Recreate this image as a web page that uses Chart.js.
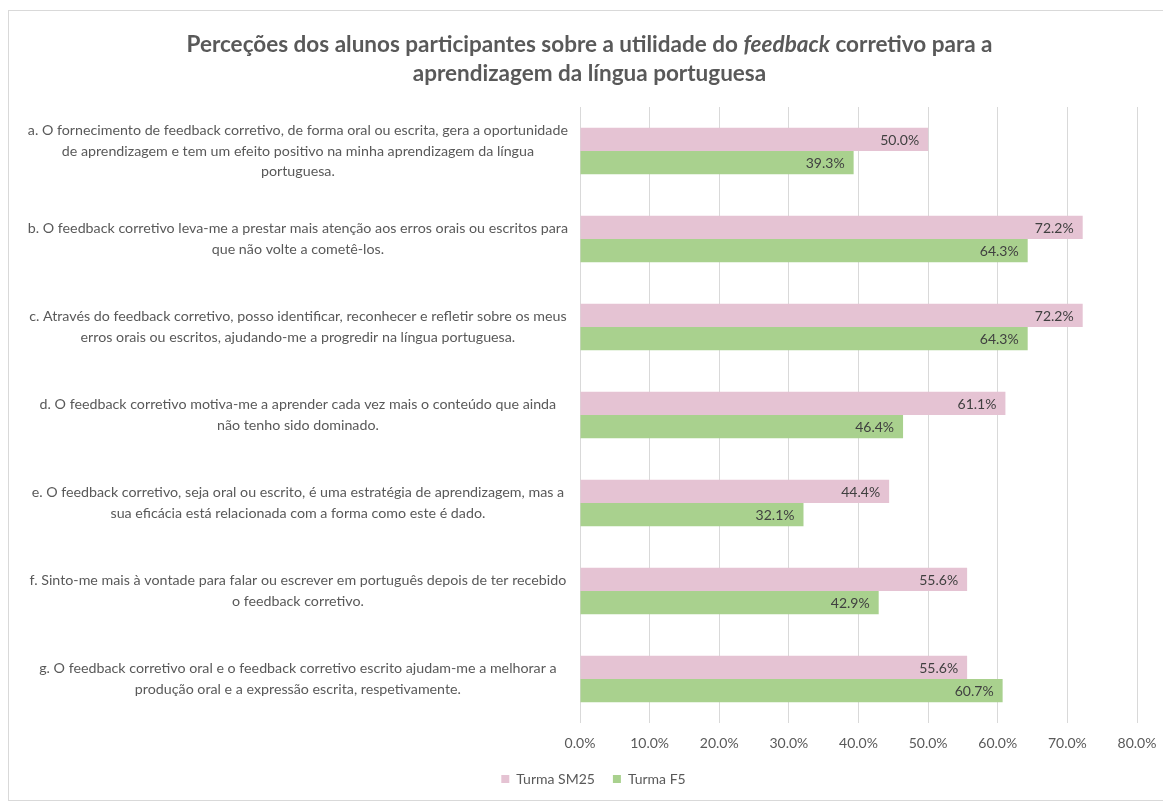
<!DOCTYPE html>
<html>
<head>
<meta charset="utf-8">
<script src="https://cdn.jsdelivr.net/npm/chart.js@4"></script>
<style>
	html, body { margin: 0; padding: 0; background: #fff; }
	body { width: 1163px; height: 803px; position: relative; overflow: hidden; }
	#frame {
		position: absolute; left: 8px; top: 10px; width: 1170px; height: 791px;
		border: 1px solid #d9d9d9; box-sizing: border-box;
	}
	#title {
		position: absolute; left: 8px; top: 29px; width: 1163px; text-align: center;
		font-family: Lato, sans-serif; font-weight: bold; font-size: 22.5px; line-height: 29px;
		color: #595959;
	}
	#chart { position: absolute; left: 0; top: 0; }
</style>
</head>
<body>
<div id="frame"></div>
<canvas id="chart" width="1163" height="803"></canvas>
<div id="title">Perceções dos alunos participantes sobre a utilidade do <em>feedback</em> corretivo para a<br>aprendizagem da língua portuguesa</div>
<script>
	const statements = [
		['a. O fornecimento de feedback corretivo, de forma oral ou escrita, gera a oportunidade', 'de aprendizagem e tem um efeito positivo na minha aprendizagem da língua', 'portuguesa.'],
		['b. O feedback corretivo leva-me a prestar mais atenção aos erros orais ou escritos para', 'que não volte a cometê-los.'],
		['c. Através do feedback corretivo, posso identificar, reconhecer e refletir sobre os meus', 'erros orais ou escritos, ajudando-me a progredir na língua portuguesa.'],
		['d. O feedback corretivo motiva-me a aprender cada vez mais o conteúdo que ainda', 'não tenho sido dominado.'],
		['e. O feedback corretivo, seja oral ou escrito, é uma estratégia de aprendizagem, mas a', 'sua eficácia está relacionada com a forma como este é dado.'],
		['f. Sinto-me mais à vontade para falar ou escrever em português depois de ter recebido', 'o feedback corretivo.'],
		['g. O feedback corretivo oral e o feedback corretivo escrito ajudam-me a melhorar a', 'produção oral e a expressão escrita, respetivamente.'],
	];
	const seriesNames = ['Turma SM25', 'Turma F5'];
	const turmaSM25 = [50.0, 72.2, 72.2, 61.1, 44.4, 55.6, 55.6];
	const turmaF5 = [39.3, 64.3, 64.3, 46.4, 32.1, 42.9, 60.7];
	const axisMax = 80;
	const axisStep = 10;

	const textGrey = '#595959';

	// value labels at the inside end of each bar
	const barLabels = {
		id: 'barLabels',
		afterDatasetsDraw(chart) {
			const {ctx} = chart;
			ctx.save();
			ctx.font = '14px Lato, sans-serif';
			ctx.fillStyle = '#404040';
			ctx.textAlign = 'right';
			ctx.textBaseline = 'middle';
			chart.data.datasets.forEach((ds, i) => {
				chart.getDatasetMeta(i).data.forEach((bar, j) => {
					ctx.fillText(ds.data[j].toFixed(1) + '%', bar.x - 9, bar.y + 1);
				});
			});
			ctx.restore();
		},
	};

	// legend sits a bit right of the canvas centre in the original
	const legendShift = {
		id: 'legendShift',
		afterLayout(chart) {
			if (chart.legend) chart.legend.left += 40;
		},
	};

	new Chart(document.querySelector('#chart'), {
		type: 'bar',
		data: {
			labels: statements,
			datasets: [
				{label: seriesNames[0], data: turmaSM25, backgroundColor: '#e5c3d3'},
				{label: seriesNames[1], data: turmaF5, backgroundColor: '#a9d18e'},
			],
		},
		options: {
			indexAxis: 'y',
			responsive: false,
			animation: false,
			categoryPercentage: 0.53,
			barPercentage: 1,
			layout: {padding: {top: 107, left: 10, right: 26, bottom: 7}},
			plugins: {
				legend: {
					position: 'bottom',
					labels: {
						boxWidth: 8, boxHeight: 8, padding: 18,
						color: textGrey, font: {family: 'Lato', size: 14},
					},
				},
				tooltip: {enabled: false},
			},
			scales: {
				x: {
					min: 0, max: axisMax,
					ticks: {
						stepSize: axisStep, padding: 12, color: textGrey,
						font: {family: 'Lato', size: 14},
						callback: (v) => Number(v).toFixed(1) + '%',
					},
					grid: {color: '#d9d9d9', drawTicks: false},
					border: {display: false},
					afterFit: (scale) => { scale.height = 31; scale.paddingRight = 0; },
				},
				y: {
					ticks: {
						crossAlign: 'center', padding: 12, color: textGrey,
						font: {family: 'Lato', size: 14.25, lineHeight: 1.44},
					},
					grid: {display: false, drawTicks: false},
					border: {display: false},
					afterFit: (scale) => { scale.width = 570; },
				},
			},
		},
		plugins: [barLabels, legendShift],
	});
</script>
</body>
</html>
